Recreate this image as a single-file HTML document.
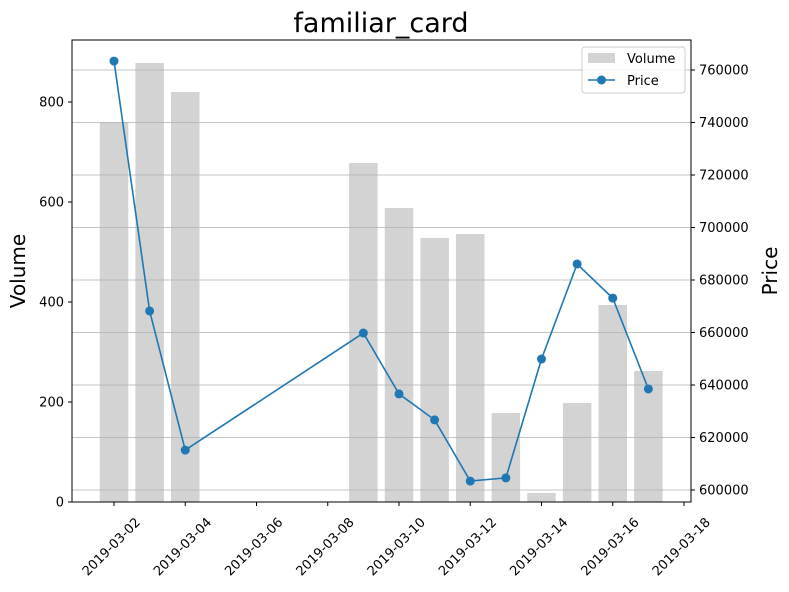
<!DOCTYPE html>
<html><head><meta charset="utf-8"><style>
body{margin:0;background:#fff;font-family:"DejaVu Sans","Liberation Sans",sans-serif}
svg text{font-family:"DejaVu Sans","Liberation Sans",sans-serif}
</style></head><body>
<svg id="c" width="789" height="588" xmlns="http://www.w3.org/2000/svg"></svg>
<script>
const dates=["2019-03-02","2019-03-03","2019-03-04","2019-03-09","2019-03-10","2019-03-11","2019-03-12","2019-03-13","2019-03-14","2019-03-15","2019-03-16","2019-03-17"];
const volumes=[760,878,820,678,588,528,536,178,18,198,394,262];
const prices=[763400,668200,615200,659800,636600,626700,603400,604600,649900,686100,673100,638500];
const xTicks=["2019-03-02","2019-03-04","2019-03-06","2019-03-08","2019-03-10","2019-03-12","2019-03-14","2019-03-16","2019-03-18"];
const volTicks=[0,200,400,600,800];
const priceTicks=[600000,620000,640000,660000,680000,700000,720000,740000,760000];
const L=72,R=691,T=40,B=502;
const day0=Date.UTC(2019,2,2);
function dayIdx(s){const p=s.split('-');return (Date.UTC(+p[0],+p[1]-1,+p[2])-day0)/86400000;}
const x=d=>114+dayIdx(d)*35.625;
const yv=v=>502-v*0.5;
const yp=p=>70+(760000-p)*0.002625;
const svg=document.getElementById('c');const NS="http://www.w3.org/2000/svg";
function el(t,a,txt){const e=document.createElementNS(NS,t);for(const k in a)e.setAttribute(k,a[k]);if(txt!==undefined)e.textContent=txt;svg.appendChild(e);return e;}
dates.forEach((d,i)=>{const b=el('rect',{x:x(d)-14.25,y:yv(volumes[i]),width:28.5,height:502-yv(volumes[i]),fill:'#d3d3d3'});

});
priceTicks.forEach(p=>{const g=el('line',{x1:L,x2:R,y1:yp(p),y2:yp(p),stroke:'#b0b0b0','stroke-width':0.8});


el('line',{x1:R,x2:R+4,y1:yp(p),y2:yp(p),stroke:'#000'});
const t=el('text',{x:R+8,y:yp(p)+4.5,'font-size':13},String(p));

});
volTicks.forEach(v=>{el('line',{x1:L-4,x2:L,y1:yv(v),y2:yv(v),stroke:'#000'});
const t=el('text',{x:L-8,y:yv(v)+4.5,'font-size':13,'text-anchor':'end'},String(v));

});
xTicks.forEach(d=>{const xx=x(d);el('line',{x1:xx,x2:xx,y1:B,y2:B+4,stroke:'#000'});
const ax=xx+27,ay=B+21;
const t=el('text',{x:ax,y:ay,'font-size':13,'text-anchor':'end',transform:`rotate(-45 ${ax} ${ay})`},d);

});
const line=el('polyline',{points:dates.map((d,i)=>x(d)+','+yp(prices[i])).join(' '),fill:'none',stroke:'#1f77b4','stroke-width':1.6});


dates.forEach((d,i)=>{const c=el('circle',{cx:x(d),cy:yp(prices[i]),r:4.5,fill:'#1f77b4'});

});
el('rect',{x:L,y:T,width:R-L,height:B-T,fill:'none',stroke:'#000','stroke-width':1});
const ti=el('text',{x:381,y:32,'font-size':27,'text-anchor':'middle'},'familiar_card');

const yl=el('text',{x:25,y:271,'font-size':20,'text-anchor':'middle',transform:'rotate(-90 25 271)'},'Volume');

const yr=el('text',{x:777,y:271,'font-size':20,'text-anchor':'middle',transform:'rotate(-90 777 271)'},'Price');

const lg=el('rect',{x:582,y:47,width:103,height:46,fill:'#fff',stroke:'#ccc',rx:3,'fill-opacity':0.8});

el('rect',{x:588,y:53,width:27,height:10,fill:'#d3d3d3'});
const l1=el('text',{x:627,y:63,'font-size':13},'Volume');

el('line',{x1:588,x2:615,y1:80,y2:80,stroke:'#1f77b4','stroke-width':1.6});
el('circle',{cx:601.5,cy:80,r:4.5,fill:'#1f77b4'});
const l2=el('text',{x:627,y:85,'font-size':13},'Price');

</script>
</body></html>
